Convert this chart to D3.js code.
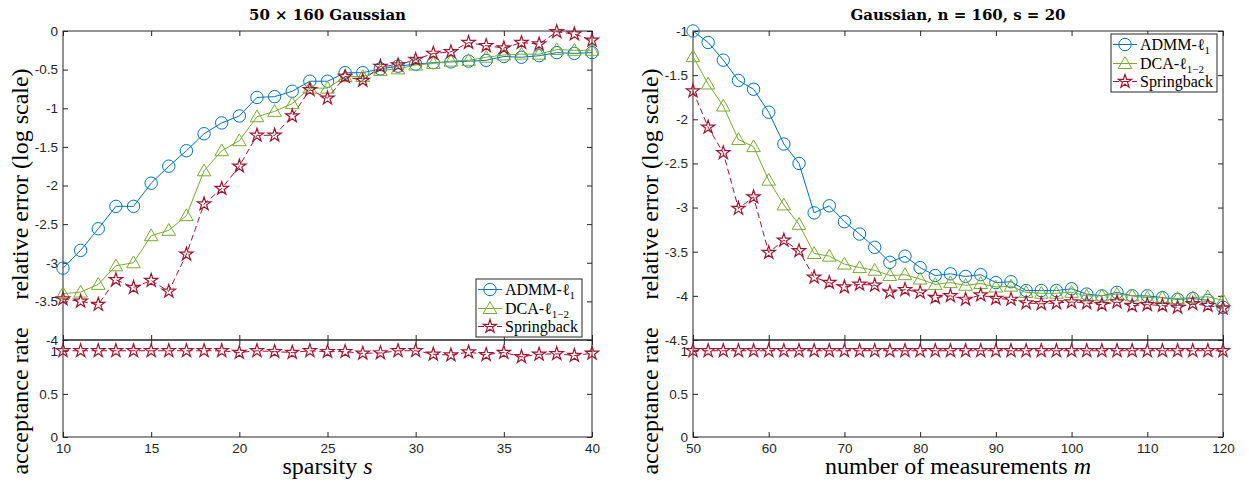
<!DOCTYPE html>
<html><head><meta charset="utf-8">
<script src="https://cdn.jsdelivr.net/npm/d3@7"></script>
<style>
body{margin:0;background:#fff} svg{display:block}
.serif{font-family:'Liberation Serif','Times New Roman',Times,serif;}
.ttl{font-family:'DejaVu Serif','Liberation Serif',serif;font-weight:bold;}
</style>
</head><body><svg id="c" width="1249" height="484"></svg>
<script>
// ---------- data ----------
const sparsity = [10,11,12,13,14,15,16,17,18,19,20,21,22,23,24,25,26,27,28,29,30,31,32,33,34,35,36,37,38,39,40];
const admmS   = [-3.07,-2.84,-2.56,-2.27,-2.27,-1.97,-1.75,-1.55,-1.33,-1.19,-1.10,-0.86,-0.85,-0.78,-0.65,-0.65,-0.54,-0.54,-0.49,-0.455,-0.43,-0.41,-0.40,-0.39,-0.38,-0.33,-0.34,-0.32,-0.28,-0.29,-0.28];
const dcaS    = [-3.40,-3.38,-3.28,-3.04,-3.00,-2.65,-2.58,-2.39,-1.81,-1.55,-1.42,-1.11,-1.04,-0.94,-0.74,-0.74,-0.59,-0.59,-0.51,-0.49,-0.44,-0.42,-0.39,-0.38,-0.34,-0.31,-0.30,-0.30,-0.24,-0.25,-0.25];
const springS = [-3.47,-3.50,-3.54,-3.22,-3.32,-3.23,-3.37,-2.89,-2.24,-2.04,-1.75,-1.35,-1.35,-1.10,-0.76,-0.87,-0.59,-0.64,-0.46,-0.44,-0.37,-0.29,-0.27,-0.15,-0.19,-0.22,-0.15,-0.17,-0.01,-0.04,-0.12];
const accS    = [1,1,1,1,1,1,1,1,1,1,0.98,1,0.99,0.98,1,0.99,0.99,0.97,0.975,1,1,0.96,0.95,0.985,0.955,0.98,0.93,0.96,0.965,0.945,0.97];

const measurements = [50,52,54,56,58,60,62,64,66,68,70,72,74,76,78,80,82,84,86,88,90,92,94,96,98,100,102,104,106,108,110,112,114,116,118,120];
const admmM   = [-1.00,-1.13,-1.33,-1.56,-1.66,-1.92,-2.28,-2.50,-3.06,-2.98,-3.16,-3.30,-3.45,-3.62,-3.55,-3.68,-3.77,-3.75,-3.78,-3.76,-3.85,-3.84,-3.94,-3.94,-3.94,-3.92,-3.98,-4.00,-3.96,-4.00,-4.00,-4.02,-4.04,-4.03,-4.05,-4.13];
const dcaM    = [-1.29,-1.60,-1.85,-2.23,-2.31,-2.69,-2.97,-3.19,-3.52,-3.55,-3.64,-3.68,-3.71,-3.77,-3.76,-3.81,-3.87,-3.85,-3.88,-3.86,-3.90,-3.89,-3.96,-3.97,-3.97,-3.96,-4.00,-4.00,-3.98,-4.00,-4.02,-4.02,-4.03,-4.02,-4.01,-4.05];
const springM = [-1.68,-2.09,-2.38,-3.01,-2.88,-3.51,-3.37,-3.49,-3.79,-3.85,-3.90,-3.87,-3.88,-3.96,-3.93,-3.96,-4.02,-4.00,-4.04,-3.99,-4.03,-4.04,-4.08,-4.09,-4.08,-4.07,-4.08,-4.10,-4.07,-4.11,-4.10,-4.11,-4.13,-4.09,-4.11,-4.14];
const accM    = [1,1,1,1,1,1,1,1,1,1,1,1,1,1,1,1,1,1,1,1,1,1,1,1,1,1,1,1,1,1,1,1,1,1,1,1];

const ticksS = [10,15,20,25,30,35,40];
const ticksM = [50,60,70,80,90,100,110,120];
const ticksTopL = [0,-0.5,-1,-1.5,-2,-2.5,-3,-3.5,-4];
const ticksTopR = [-1,-1.5,-2,-2.5,-3,-3.5,-4,-4.5];
const ticksAcc = [0,0.5,1];

const seriesNames = ["ADMM", "DCA", "Springback"];

// ---------- style ----------
const COL = {ADMM:'#0072BD', DCA:'#77AC30', Springback:'#A2142F'};
const AX = '#262626';
const svg = d3.select('#c');

function starPath(R){
  const r = R*0.382; let p = [];
  for(let i=0;i<10;i++){
    const a = -Math.PI/2 + i*Math.PI/5;
    const rr = i%2===0 ? R : r;
    p.push([rr*Math.cos(a), rr*Math.sin(a)]);
  }
  return 'M'+p.map(q=>q[0].toFixed(2)+','+q[1].toFixed(2)).join('L')+'Z';
}
const MARK = {
  ADMM: d3.symbol(d3.symbolCircle, Math.PI*6.2*6.2)(),
  DCA: 'M0,-6.8L6.8,5L-6.8,5Z',
  Springback: starPath(7)
};
const DASH = {ADMM:null, DCA:null, Springback:'6,3.5'};

function drawSeries(g, xs, ys, x, y, name){
  const line = d3.line().x((d,i)=>x(xs[i])).y(d=>y(d));
  g.append('path').attr('d', line(ys)).attr('fill','none')
    .attr('stroke', COL[name]).attr('stroke-width',1)
    .attr('stroke-dasharray', DASH[name]);
  g.selectAll(null).data(ys).enter().append('path')
    .attr('d', MARK[name])
    .attr('transform',(d,i)=>`translate(${x(xs[i])},${y(d)})`)
    .attr('fill','none').attr('stroke', COL[name]).attr('stroke-width',name==='Springback'?1.2:1);
}

function frame(g, x0,x1,y0,y1){
  g.append('rect').attr('x',x0).attr('y',y0).attr('width',x1-x0).attr('height',y1-y0)
    .attr('fill','none').attr('stroke',AX).attr('stroke-width',1);
}
function styleAxis(sel){
  sel.select('.domain').remove();
  sel.attr('font-family','Liberation Sans, Arial, Helvetica, sans-serif').attr('font-size',13.5);
  sel.selectAll('line').attr('stroke',AX);
  sel.selectAll('text').attr('fill',AX);
}

function panel(cfg){
  const g = svg.append('g');
  const x = d3.scaleLinear().domain(cfg.xdom).range([cfg.x0, cfg.x1]);
  const yT = d3.scaleLinear().domain(cfg.ydom).range([cfg.yb, cfg.yt]);
  const yB = d3.scaleLinear().domain([0, 1.125]).range([437, cfg.yb]);
  const TS = -5;
  // top axes
  g.append('g').attr('transform',`translate(0,${cfg.yb})`).call(d3.axisBottom(x).tickValues(cfg.xticks).tickSize(TS).tickFormat('')).call(styleAxis);
  g.append('g').attr('transform',`translate(0,${cfg.yt})`).call(d3.axisTop(x).tickValues(cfg.xticks).tickSize(TS).tickFormat('')).call(styleAxis);
  g.append('g').attr('transform',`translate(${cfg.x0},0)`).call(d3.axisLeft(yT).tickValues(cfg.yticks).tickSize(TS).tickPadding(5).tickFormat(d=>String(d))).call(styleAxis);
  g.append('g').attr('transform',`translate(${cfg.x1},0)`).call(d3.axisRight(yT).tickValues(cfg.yticks).tickSize(TS).tickFormat('')).call(styleAxis);
  // bottom axes
  g.append('g').attr('transform',`translate(0,437)`).call(d3.axisBottom(x).tickValues(cfg.xticks).tickSize(TS).tickPadding(6).tickFormat(d=>String(d))).call(styleAxis);
  g.append('g').attr('transform',`translate(0,${cfg.yb})`).call(d3.axisTop(x).tickValues(cfg.xticks).tickSize(TS).tickFormat('')).call(styleAxis);
  g.append('g').attr('transform',`translate(${cfg.x0},0)`).call(d3.axisLeft(yB).tickValues(ticksAcc).tickSize(TS).tickPadding(5).tickFormat(d=>String(d))).call(styleAxis);
  g.append('g').attr('transform',`translate(${cfg.x1},0)`).call(d3.axisRight(yB).tickValues(ticksAcc).tickSize(TS).tickFormat('')).call(styleAxis);
  frame(g, cfg.x0, cfg.x1, cfg.yt, cfg.yb);
  frame(g, cfg.x0, cfg.x1, cfg.yb, 437);

  // series
  drawSeries(g, cfg.xs, cfg.admm, x, yT, 'ADMM');
  drawSeries(g, cfg.xs, cfg.dca, x, yT, 'DCA');
  drawSeries(g, cfg.xs, cfg.spr, x, yT, 'Springback');
  drawSeries(g, cfg.xs, cfg.acc, x, yB, 'Springback');

  // title
  const cx = (cfg.x0+cfg.x1)/2;
  g.append('text').attr('class','ttl').attr('x',cx).attr('y',20).attr('text-anchor','middle')
    .attr('font-size',15).attr('fill','#000').text(cfg.title);
  // x label
  const xl = g.append('text').attr('class','serif').attr('x',cx).attr('y',474).attr('text-anchor','middle')
    .attr('font-size',24).attr('fill','#000');
  xl.append('tspan').text(cfg.xlabel);
  xl.append('tspan').attr('font-style','italic').text(cfg.xvar);
  // y labels
  const yl = (txt, cy) => g.append('text').attr('class','serif').attr('transform',`translate(${cfg.x0-35},${cy}) rotate(-90)`)
    .attr('text-anchor','middle').attr('font-size',24).attr('fill','#000').text(txt);
  yl('relative error (log scale)', 184);
  yl('acceptance rate', 401);

  // legend
  const lg = g.append('g').attr('transform',`translate(${cfg.lx},${cfg.ly})`);
  lg.append('rect').attr('width',106).attr('height',58).attr('fill','#fff').attr('stroke',AX).attr('stroke-width',1);
  const rows = [10.5, 29.5, 47.5];
  const labels = [['ADMM-ℓ','1'],['DCA-ℓ','1−2'],['Springback','']];
  seriesNames.forEach((nm,i)=>{
    const yy = rows[i];
    lg.append('line').attr('x1',2).attr('x2',26).attr('y1',yy).attr('y2',yy)
      .attr('stroke',COL[nm]).attr('stroke-width',1).attr('stroke-dasharray',DASH[nm]);
    lg.append('path').attr('d',MARK[nm]).attr('transform',`translate(14,${yy})`)
      .attr('fill','none').attr('stroke',COL[nm]).attr('stroke-width',nm==='Springback'?1.2:1);
    const t = lg.append('text').attr('class','serif').attr('x',29).attr('y',yy+5.5)
      .attr('font-size',16).attr('fill','#000');
    t.append('tspan').text(labels[i][0]);
    if(labels[i][1]) t.append('tspan').attr('dy',3.5).attr('font-size',11).text(labels[i][1]);
  });
}

panel({xdom:[10,40], x0:63, x1:592, yt:31, yb:340, ydom:[-4,0], xticks:ticksS, yticks:ticksTopL,
  xs:sparsity, admm:admmS, dca:dcaS, spr:springS, acc:accS,
  title:'50 × 160 Gaussian', xlabel:'sparsity ', xvar:'s', lx:476, ly:279});
panel({xdom:[50,120], x0:693, x1:1223, yt:31, yb:340, ydom:[-4.5,-1], xticks:ticksM, yticks:ticksTopR,
  xs:measurements, admm:admmM, dca:dcaM, spr:springM, acc:accM,
  title:'Gaussian, n = 160, s = 20', xlabel:'number of measurements ', xvar:'m', lx:1111, ly:34});
</script></body></html>
